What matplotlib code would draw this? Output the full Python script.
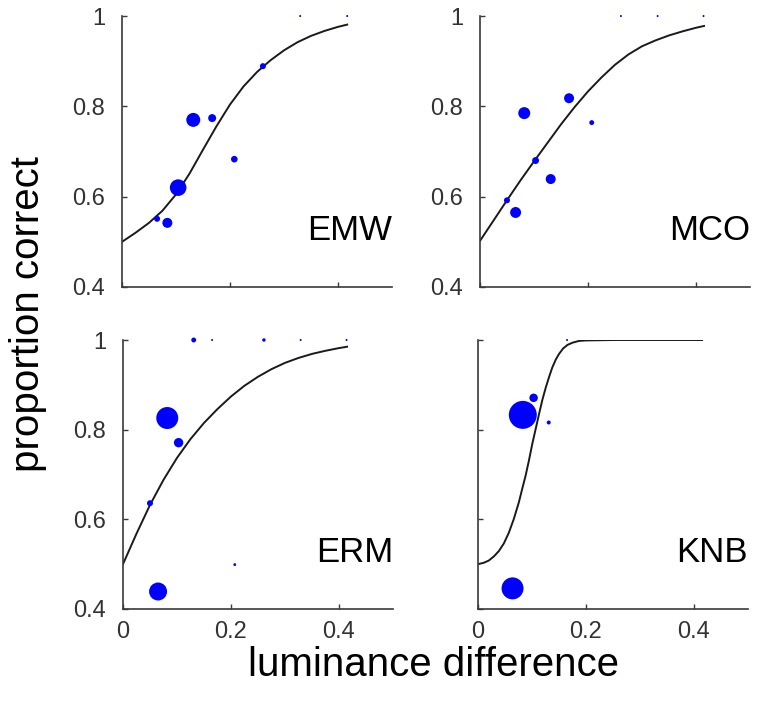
import matplotlib
matplotlib.use("Agg")
import matplotlib.pyplot as plt
import numpy as np

plt.rcParams['font.family'] = ['Liberation Sans', 'DejaVu Sans']

# --- data ---
# scatter: x = luminance difference, y = proportion correct, w = relative weight (marker area)
emw_x = [0.330, 0.417, 0.261, 0.132, 0.167, 0.208, 0.104, 0.065, 0.084]
emw_y = [1.000, 1.000, 0.889, 0.770, 0.774, 0.683, 0.620, 0.551, 0.542]
emw_w = [1, 1, 9, 49, 16, 11, 69, 9, 25]

mco_x = [0.261, 0.329, 0.414, 0.165, 0.082, 0.207, 0.103, 0.131, 0.050, 0.066]
mco_y = [1.000, 1.000, 1.000, 0.818, 0.785, 0.764, 0.680, 0.639, 0.592, 0.565]
mco_w = [1, 1, 1, 25, 36, 6, 12, 25, 9, 30]

erm_x = [0.131, 0.165, 0.261, 0.329, 0.414, 0.082, 0.103, 0.050, 0.207, 0.065]
erm_y = [1.000, 1.000, 1.000, 1.000, 1.000, 0.826, 0.771, 0.636, 0.499, 0.439]
erm_w = [6, 1, 3, 1, 1, 121, 22, 9, 2, 81]

knb_x = [0.165, 0.103, 0.083, 0.131, 0.064]
knb_y = [1.000, 0.871, 0.833, 0.816, 0.446]
knb_w = [1, 18, 196, 4, 121]

# fitted psychometric curves
emw_cx = [0, 0.025, 0.05, 0.075, 0.1, 0.125, 0.15, 0.175, 0.2, 0.225, 0.25, 0.275, 0.3, 0.325, 0.35, 0.375, 0.4, 0.417]
emw_cy = [0.500, 0.520, 0.542, 0.569, 0.605, 0.651, 0.704, 0.756, 0.804, 0.844, 0.876, 0.902, 0.924, 0.942, 0.956, 0.967, 0.976, 0.981]

mco_cx = [0, 0.025, 0.05, 0.075, 0.1, 0.125, 0.15, 0.175, 0.2, 0.225, 0.25, 0.275, 0.3, 0.325, 0.35, 0.375, 0.4, 0.415]
mco_cy = [0.502, 0.547, 0.592, 0.636, 0.678, 0.719, 0.760, 0.798, 0.833, 0.864, 0.892, 0.915, 0.933, 0.946, 0.957, 0.966, 0.974, 0.978]

erm_cx = [0, 0.025, 0.05, 0.075, 0.1, 0.125, 0.15, 0.175, 0.2, 0.225, 0.25, 0.275, 0.3, 0.325, 0.35, 0.375, 0.4, 0.415]
erm_cy = [0.500, 0.568, 0.632, 0.688, 0.737, 0.779, 0.815, 0.846, 0.874, 0.898, 0.918, 0.935, 0.949, 0.960, 0.969, 0.976, 0.982, 0.985]

knb_cx = [0, 0.0105, 0.0199, 0.0292, 0.0385, 0.0478, 0.0571, 0.0664, 0.0757, 0.0819, 0.0881, 0.0943,
          0.1005, 0.1067, 0.1129, 0.1191, 0.1253, 0.1315, 0.1377, 0.1439, 0.1501, 0.1576, 0.1656,
          0.1749, 0.1873, 0.1998, 0.25, 0.3, 0.415]
knb_cy = [0.500, 0.503, 0.508, 0.517, 0.529, 0.546, 0.570, 0.601, 0.638, 0.668, 0.697, 0.731,
          0.768, 0.801, 0.834, 0.866, 0.893, 0.917, 0.939, 0.956, 0.969, 0.981, 0.989,
          0.994, 0.998, 0.999, 1.0, 1.0, 1.0]

observers = ['EMW', 'MCO', 'ERM', 'KNB']
xticks = [0, 0.2, 0.4]
xticklabels = ['0', '0.2', '0.4']
yticks = [0.4, 0.6, 0.8, 1.0]
yticklabels = ['0.4', '0.6', '0.8', '1']

panels = [
    (emw_x, emw_y, emw_w, emw_cx, emw_cy),
    (mco_x, mco_y, mco_w, mco_cx, mco_cy),
    (erm_x, erm_y, erm_w, erm_cx, erm_cy),
    (knb_x, knb_y, knb_w, knb_cx, knb_cy),
]

fig = plt.figure(figsize=(7.61, 7.06), dpi=100)
rects = [
    [0.1603, 0.5935, 0.3548, 0.3838],
    [0.6307, 0.5935, 0.3548, 0.3838],
    [0.1616, 0.1374, 0.3548, 0.3810],
    [0.6281, 0.1374, 0.3548, 0.3810],
]

axc = '#3a3a3a'
for i, (rect, name, (px, py, pw, cx, cy)) in enumerate(zip(rects, observers, panels)):
    ax = fig.add_axes(rect)
    ax.plot(cx, cy, color='#1a1a1a', lw=1.4, zorder=2, solid_joinstyle='round')
    ax.scatter(px, py, s=np.array(pw) * 2.07, color='#0000ff', linewidths=0, zorder=3, clip_on=False)
    ax.set_xlim(0, 0.5)
    ax.set_ylim(0.4, 1.0)
    ax.set_xticks(xticks)
    ax.set_yticks(yticks)
    ax.set_xticklabels(xticklabels if i >= 2 else [])
    ax.set_yticklabels(yticklabels if i != 3 else [])
    for s in ['top', 'right']:
        ax.spines[s].set_visible(False)
    for s in ['left', 'bottom']:
        ax.spines[s].set_color(axc)
        ax.spines[s].set_linewidth(1.2)
    ax.tick_params(axis='both', direction='in', length=3.5, width=1, color=axc,
                   labelsize=17, labelcolor='#333333')
    ax.tick_params(axis='y', pad=12)
    ax.tick_params(axis='x', pad=9)
    ax.text(0.5, 0.505, name, ha='right', va='baseline', fontsize=25, color='black')

fig.text(0.037, 0.555, 'proportion correct', rotation=90, ha='center', va='center', fontsize=29)
fig.text(0.569, 0.058, 'luminance difference', ha='center', va='center', fontsize=29)

fig.savefig('out.png', dpi=100)
